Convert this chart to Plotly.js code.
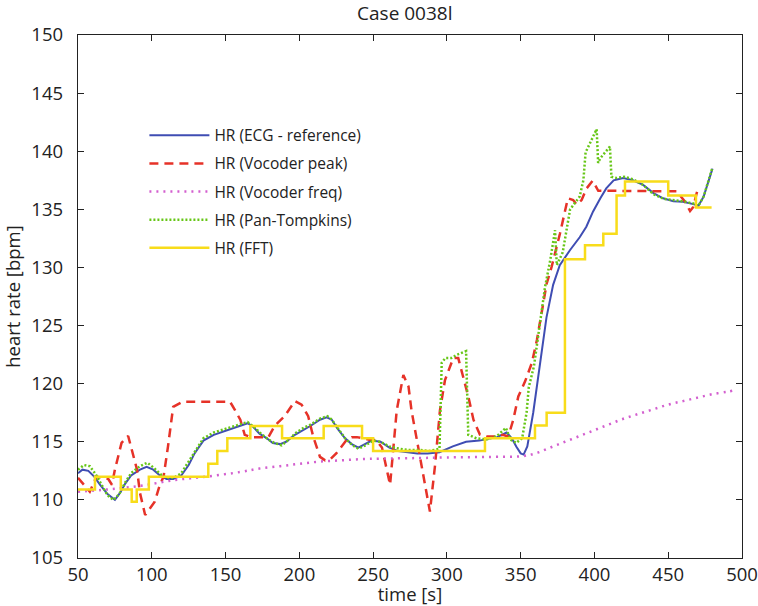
<!DOCTYPE html>
<html>
<head>
<meta charset="utf-8">
<script src="https://cdn.plot.ly/plotly-3.0.1.min.js"></script>
<style>html,body{margin:0;padding:0;background:#fff;}#chart{width:758px;height:606px;}</style>
</head>
<body>
<div id="chart"></div>
<script>
// ---- data ----
const ecgT = [50,53,57,61,65,70,75,78.5,82,86,92,96.5,101,105.5,110,114.5,120,125,129,135,142,151,158,165,169,173,178,182,187,191,197,203,208,214,218.5,222,226,231,235.5,240,244.5,249,255,261,267,273,280,287,295,304,313,322,334,340.5,344,347,350,352,354.5,358.5,363,367.5,372,376.5,383.5,390,394.5,399,404,408,413,419.5,426,433,440,446.5,453.5,460,467,470.5,474,477,480];
const ecgV = [112.3,112.6,112.5,112.0,111.3,110.5,110.0,110.6,111.4,112.1,112.6,112.85,112.6,112.1,111.8,111.8,112.1,113.0,114.0,115.1,115.6,116.0,116.3,116.6,116.25,115.7,115.3,114.9,114.8,115.0,115.6,116.0,116.4,116.9,117.1,116.9,116.1,115.3,114.8,114.5,114.8,115.1,115.0,114.5,114.2,114.1,114.0,114.0,114.1,114.6,115.0,115.1,115.4,115.8,115.3,114.6,114.0,113.9,114.6,117.5,121.7,125.7,128.5,130.2,131.5,132.6,133.5,134.8,135.95,136.8,137.5,137.7,137.5,137.1,136.4,135.95,135.7,135.65,135.45,135.3,136.1,137.4,138.5];

const vpT = [50,55,58,62.5,66,70.5,73,75,79.5,84,90,92,95.5,102,105.5,108,111,114.5,121,153,156.5,160,163,167,179,183.5,190,197,201.5,206,209.5,214,217.5,221,225,232,235.5,239,243,248,252,256,261.5,266,270.5,274,276,278.5,282,288.5,292,295.3,298.7,304.3,307.7,311,314.5,318,322.4,327,334,338,341.6,345,348.4,353,357.5,361,364,367.6,371,374.4,376.6,382,385.6,388,391.3,394.7,398.8,402.6,455.7,458,461.4,464.8,467,469.3,470.4];
const vpV = [111.9,111.2,110.7,112.0,111.9,111.8,111.3,112.6,114.9,115.5,112.6,110.6,108.7,109.85,111.3,112.0,114.6,118.0,118.45,118.45,117.7,116.9,115.6,115.4,115.4,116.4,117.2,118.5,118.2,117.2,115.4,113.7,113.4,113.5,114.0,115.15,115.4,115.4,115.3,115.15,115.15,114.5,111.3,117.7,120.75,119.75,117.7,116.0,113.5,109.0,113.0,117.7,120.3,122.2,122.2,120.6,118.9,116.9,115.6,115.45,115.45,115.6,115.45,116.9,118.9,120.2,121.75,123.75,125.8,128.6,130.06,131.8,132.9,135.95,135.8,135.4,135.8,136.8,137.46,136.6,136.55,136.2,135.65,134.85,135.2,136.4,136.8];

const vfT = [50,70,92,115,137,160,173,187,200,214,228,241,255,280,300,330,350,360,370,380,390,400,410,420,430,440,450,460,470,480,490,494];
const vfV = [110.7,110.9,111.2,111.7,112.0,112.4,112.7,112.9,113.1,113.3,113.4,113.5,113.55,113.6,113.65,113.7,113.75,114.0,114.5,115.0,115.5,116.0,116.5,117.0,117.4,117.8,118.2,118.5,118.8,119.1,119.3,119.4];

const ptT = [50,54,58,62,66,70,74,78,82,86,92,97,101,106,110,115,120,125,130,135,142,150,158,165,169,174,179,183,188,192,198,203,208,214,219,222,227,231,236,240,245,250,255,261,268,274,281,288,295,296.5,299,303,307,313,314.5,320,327,334,340,343,347,351,354,355.5,359,363,366.5,370,373.3,374.5,378.5,383.5,390,392.5,394,401.5,402.5,404,410.5,411.5,415,420,426,433,440,447,454,460,467,470.5,474,477,480];
const ptV = [112.6,113.0,112.9,112.2,111.3,110.4,110.0,110.5,111.5,112.3,112.9,113.2,112.8,112.2,111.9,111.9,112.3,113.3,114.3,115.3,115.8,116.1,116.4,116.7,116.3,115.7,115.2,114.9,114.7,115.1,115.8,116.2,116.5,117.0,117.2,116.9,116.0,115.3,114.7,114.4,114.7,115.1,115.0,114.6,114.4,114.3,114.3,114.2,114.4,121.8,122.2,122.2,122.5,122.8,115.6,115.3,115.2,115.5,116.2,115.2,114.9,115.3,117.5,119.7,121.5,124.9,128.3,130.6,133.2,130.2,131.3,135.0,136.1,137.5,139.9,141.9,139.0,139.4,140.4,137.8,137.7,137.8,137.6,137.1,136.3,135.9,135.8,135.7,135.5,135.3,136.1,137.4,138.6];

const fftT = [50,61.5,79,86.4,89.8,98,138.3,144.4,151.2,166.8,188.3,216.5,242.5,250,325.8,359.7,367.6,380,393.6,406,415,420.7,450,468.8,479.4];
const fftV = [110.9,112.0,110.9,109.85,110.9,112.0,113.1,114.2,115.3,116.35,115.3,116.35,115.3,114.2,115.3,116.4,117.5,130.7,131.9,132.9,136.2,137.4,136.2,135.15,135.15];

const names = ['HR (ECG - reference)','HR (Vocoder peak)','HR (Vocoder freq)','HR (Pan-Tompkins)','HR (FFT)'];
const xTicks = [50,100,150,200,250,300,350,400,450,500];
const yTicks = [105,110,115,120,125,130,135,140,145,150];

const FONT = '"Open Sans", "Noto Sans", sans-serif';

const traces = [
  {x: ecgT, y: ecgV, name: names[0], legendgroup: 'a', line: {color: '#3f4db3', width: 2}},
  {x: vpT, y: vpV, name: names[1], legendgroup: 'b', line: {color: '#e63228', width: 2.5, dash: '9px,6px'}},
  {x: vfT, y: vfV, name: names[2], legendgroup: 'c', line: {color: '#d35fcf', width: 2.5, dash: '2px,5px', shape: 'spline'}},
  {x: ptT, y: ptV, name: names[3], legendgroup: 'd', line: {color: '#66c616', width: 2.5, dash: '2px,2px'}},
  {x: fftT, y: fftV, name: names[4], legendgroup: 'e', line: {color: '#f8dc1a', width: 2.5, shape: 'hv'}}
].map(t => Object.assign({type: 'scatter', mode: 'lines', hoverinfo: 'skip'}, t));

const axisCommon = {
  showgrid: false, zeroline: false, showline: true, mirror: 'ticks',
  linecolor: '#222', linewidth: 1.2, ticks: 'inside', ticklen: 6, tickcolor: '#222', tickwidth: 1,
  tickfont: {family: FONT, size: 18.5, color: '#222'}
};

const layout = {
  width: 758, height: 606,
  margin: {l: 78, r: 16, t: 35, b: 48},
  paper_bgcolor: '#fff', plot_bgcolor: '#fff',
  title: {text: 'Case 0038l', font: {family: FONT, size: 19, color: '#222'},
          xref: 'container', x: 0.534, xanchor: 'center', yref: 'container', y: 0.978, yanchor: 'middle'},
  xaxis: Object.assign({}, axisCommon, {range: [50, 500], tickvals: xTicks, ticktext: xTicks.map(String),
          ticklabelstandoff: 0,
          title: {text: 'time [s]', font: {family: FONT, size: 18.5, color: '#222'}, standoff: 3}}),
  yaxis: Object.assign({}, axisCommon, {range: [105, 150], tickvals: yTicks, ticktext: yTicks.map(String),
          ticklabelstandoff: 10,
          title: {text: 'heart rate [bpm]', font: {family: FONT, size: 18.5, color: '#222'}, standoff: 8}}),
  showlegend: true,
  legend: {x: 0.1, xanchor: 'left', y: 0.84, yanchor: 'top', bgcolor: 'rgba(0,0,0,0)', borderwidth: 0,
           font: {family: FONT, size: 15.5, color: '#222'}, itemwidth: 60, tracegroupgap: 5, traceorder: 'grouped'},
  hovermode: false
};

Plotly.newPlot('chart', traces, layout, {staticPlot: true, displayModeBar: false});
</script>
</body>
</html>
